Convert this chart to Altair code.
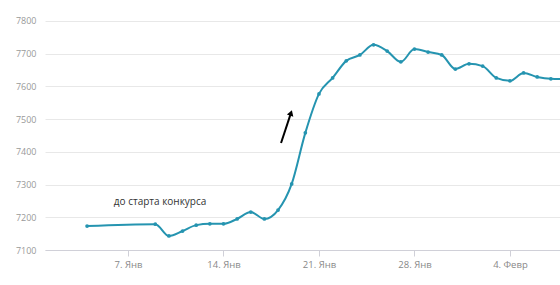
import altair as alt
import pandas as pd

# Day-of-year index (1 = 1 Jan)
days = [4, 9, 10, 11, 12, 13, 14, 15, 16, 17, 18, 19, 20, 21, 22, 23, 24, 25,
        26, 27, 28, 29, 30, 31, 32, 33, 34, 35, 36, 37, 38, 39]
values = [7173, 7179, 7143, 7158, 7176, 7180, 7180, 7195, 7216, 7195, 7222, 7302,
          7458, 7577, 7626, 7678, 7696, 7727, 7708, 7675, 7714, 7705, 7696, 7653,
          7669, 7662, 7626, 7617, 7641, 7629, 7623, 7622]
tick_days = [7, 14, 21, 28, 35]
tick_labels = ["7. Янв", "14. Янв", "21. Янв", "28. Янв", "4. Февр"]
y_ticks = [7100, 7200, 7300, 7400, 7500, 7600, 7700, 7800]

annot_text = ["до старта конкурса"]
annot_day = [9.35]
annot_val = [7247]
arrow_start = (18.22, 7427)
arrow_end = (18.95, 7519)

df = pd.DataFrame({"day": days, "value": values})

lab_arr = "[" + ",".join(f"'{l}'" for l in tick_labels) + "]"
day_arr = "[" + ",".join(str(d) for d in tick_days) + "]"

x_scale = alt.Scale(domain=[0.915, 38.67], nice=False, zero=False)
y_scale = alt.Scale(domain=[7100, 7864], nice=False, zero=False)

x_axis = alt.Axis(values=tick_days, labelExpr=f"{lab_arr}[indexof({day_arr}, datum.value)]",
                  grid=False, domainColor="#d0d0d8", tickColor="#d0d0d8", tickSize=6,
                  labelColor="#888", labelFont="Open Sans", labelFontSize=9.5,
                  labelPadding=3, title=None, labelOverlap=False)
y_axis = alt.Axis(values=y_ticks, format="d", grid=True, gridColor="#e8e8e8", domain=False,
                  ticks=False, labelColor="#999", labelFont="Open Sans", labelFontSize=9,
                  labelPadding=9, title=None, labelOverlap=False, tickCount=8)

base = alt.Chart(df)
line = base.mark_line(color="#2594b0", strokeWidth=2, interpolate="monotone", clip=True).encode(
    x=alt.X("day:Q", scale=x_scale, axis=x_axis),
    y=alt.Y("value:Q", scale=y_scale, axis=y_axis),
)
pts = base.mark_point(color="#2594b0", filled=True, size=14, opacity=1, clip=True).encode(
    x=alt.X("day:Q", scale=x_scale, axis=x_axis),
    y=alt.Y("value:Q", scale=y_scale, axis=y_axis),
)

adf = pd.DataFrame({"day": annot_day, "value": annot_val, "t": annot_text})
text = alt.Chart(adf).mark_text(font="Open Sans", fontSize=10, color="#333").encode(
    x=alt.X("day:Q", scale=x_scale, axis=x_axis),
    y=alt.Y("value:Q", scale=y_scale, axis=y_axis), text="t:N")

arr = pd.DataFrame({"x": [arrow_start[0]], "y": [arrow_start[1]],
                    "x2": [arrow_end[0]], "y2": [arrow_end[1]]})
rule = alt.Chart(arr).mark_rule(color="black", strokeWidth=2).encode(
    x=alt.X("x:Q", scale=x_scale, axis=x_axis),
    y=alt.Y("y:Q", scale=y_scale, axis=y_axis), x2="x2:Q", y2="y2:Q")
head = alt.Chart(arr).mark_point(shape="triangle-up", filled=True, color="black",
                                 size=45, angle=18, opacity=1).encode(
    x=alt.X("x2:Q", scale=x_scale, axis=x_axis),
    y=alt.Y("y2:Q", scale=y_scale, axis=y_axis))

chart = alt.layer(line, pts, text, rule, head).properties(
    width=515, height=250,
    padding={"left": 45, "top": 0, "right": 0, "bottom": 35},
    autosize=alt.AutoSizeParams(type="none"),
    background="white",
).configure_view(stroke=None)

chart.save("out.html", embed_options={"renderer": "svg", "actions": False})
